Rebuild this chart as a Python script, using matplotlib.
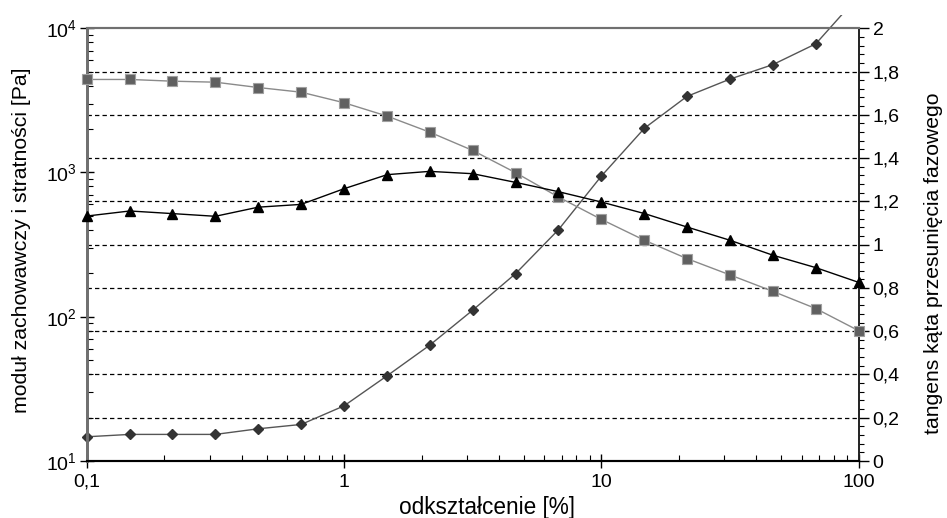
import numpy as np
import matplotlib
matplotlib.use("Agg")
import matplotlib.pyplot as plt
from matplotlib.ticker import FixedLocator, LogLocator, NullFormatter, FuncFormatter
from matplotlib.transforms import Bbox, TransformedBbox

plt.rcParams['font.family'] = ['Liberation Sans', 'DejaVu Sans']
plt.rcParams['mathtext.fontset'] = 'custom'
plt.rcParams['mathtext.rm'] = 'Liberation Sans'

# strain [%]
strain = [0.1, 0.147, 0.215, 0.316, 0.464, 0.681, 1.0, 1.47, 2.15, 3.16,
          4.64, 6.81, 10.0, 14.7, 21.5, 31.6, 46.4, 68.1, 100.0]
# storage modulus G' [Pa]
g_storage = [4415, 4415, 4295, 4227, 3882, 3603, 3044, 2459, 1905, 1422,
             997, 676, 473, 339, 253, 195, 150, 114, 80]
# loss modulus G'' [Pa]
g_loss = [499, 541, 519, 497, 575, 601, 772, 966, 1018, 981,
          854, 736, 624, 519, 419, 339, 267, 219, 173]
# tan delta
tan_delta = [0.112, 0.123, 0.123, 0.123, 0.149, 0.169, 0.255, 0.394, 0.535, 0.697,
             0.866, 1.069, 1.317, 1.538, 1.685, 1.765, 1.832, 1.928, 2.15]

right_ticks = [0, 0.2, 0.4, 0.6, 0.8, 1.0, 1.2, 1.4, 1.6, 1.8, 2.0]

fig = plt.figure(figsize=(9.47, 5.18), dpi=100)
ax = fig.add_axes([0.0916, 0.110, 0.8152, 0.8355])
ax2 = ax.twinx()

# dashed horizontal grid at right-axis ticks
for v in right_ticks[1:-1]:
    ax2.axhline(v, color='black', lw=0.9, ls=(0, (3.5, 2.5)), zorder=1)

ax.set_zorder(ax2.get_zorder() + 1)
ax.patch.set_visible(False)

ax.plot(strain, g_storage, color='#8a8a8a', lw=1.0, marker='s', ms=6.5,
        mfc='#606060', mec='#a0a0a0', mew=0.8, zorder=3, clip_on=False)
ax.plot(strain, g_loss, color='black', lw=1.0, marker='^', ms=6.5,
        mfc='black', mec='black', zorder=4, clip_on=False)
ln, = ax2.plot(strain, tan_delta, color='#555555', lw=1.0, marker='D', ms=5,
               mfc='#333333', mec='#333333', zorder=3)
ln.set_clip_box(TransformedBbox(Bbox([[-0.02, -0.05], [1.02, 1.03]]), ax2.transAxes))

ax.set_xscale('log')
ax.set_yscale('log')
ax.set_xlim(0.1, 100)
ax.set_ylim(10, 10000)
ax2.set_ylim(0, 2)

ax.yaxis.set_major_locator(FixedLocator([10, 100, 1000, 10000]))
ax.yaxis.set_major_formatter(FuncFormatter(lambda v, p: r'$\mathregular{10^{%d}}$' % round(np.log10(v))))
ax.yaxis.set_minor_locator(LogLocator(base=10, subs=np.arange(2, 10)))
ax.yaxis.set_minor_formatter(NullFormatter())

ax.xaxis.set_major_locator(FixedLocator([0.1, 1, 10, 100]))
ax.xaxis.set_major_formatter(FuncFormatter(lambda v, p: ('%g' % v).replace('.', ',')))
ax.xaxis.set_minor_locator(LogLocator(base=10, subs=np.arange(2, 10)))
ax.xaxis.set_minor_formatter(NullFormatter())

ax2.yaxis.set_major_locator(FixedLocator(right_ticks))
ax2.yaxis.set_minor_locator(FixedLocator(np.arange(0, 2.001, 0.04)))
ax2.yaxis.set_major_formatter(FuncFormatter(lambda v, p: ('%g' % round(v, 1)).replace('.', ',')))

ax.tick_params(axis='both', which='major', direction='inout', length=10, width=1.0,
               labelsize=14, color='black')
ax.tick_params(axis='both', which='minor', direction='in', length=4, width=0.8)
ax.tick_params(axis='x', which='major', pad=4)
ax.tick_params(axis='y', which='major', pad=2)
ax2.tick_params(axis='y', which='major', direction='out', length=7, width=1.0,
                labelsize=14, pad=3)
ax2.tick_params(axis='y', which='minor', direction='out', length=3.5, width=0.8)

for a in (ax, ax2):
    a.spines['left'].set_color('#707070')
    a.spines['left'].set_linewidth(2.0)
    a.spines['top'].set_color('#707070')
    a.spines['top'].set_linewidth(1.5)
    a.spines['bottom'].set_color('black')
    a.spines['bottom'].set_linewidth(1.5)
    a.spines['right'].set_color('#222222')
    a.spines['right'].set_linewidth(1.2)

fig.text(0.023, 0.537, 'moduł zachowawczy i stratności [Pa]', rotation=90,
         ha='center', va='center', fontsize=15.3)
fig.text(0.986, 0.492, 'tangens kąta przesunięcia fazowego', rotation=90,
         ha='center', va='center', fontsize=15.2)
fig.text(0.514, 0.020, 'odkształcenie [%]', ha='center', va='center', fontsize=16.3)

fig.savefig('out.png', dpi=100)
